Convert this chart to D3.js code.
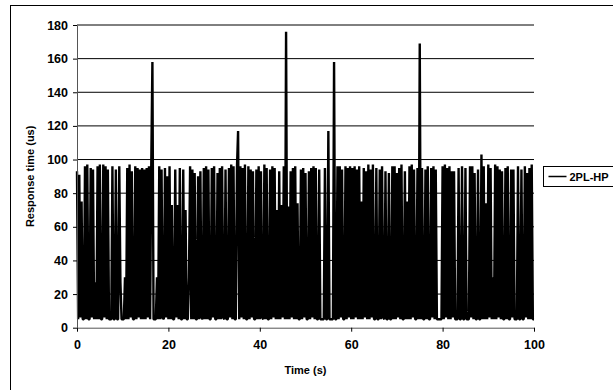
<!DOCTYPE html>
<html>
<head>
<meta charset="utf-8">
<script src="https://cdn.jsdelivr.net/npm/d3@7"></script>
<style>
  body { margin: 0; background: #fff; }
  svg { display: block; }
</style>
</head>
<body>
<div id="chart"></div>
<script>
// Response time samples (us), one every 0.25 s from 0 to 100 s
const SAMPLE_STEP = 0.25;
const responseTimes = [
  93, 5, 91, 6, 75, 5, 5, 96, 5, 97, 5, 5, 95, 6, 94, 5, 27, 5, 96, 5,
  97, 5, 5, 97, 6, 96, 5, 94, 5, 5, 5, 96, 5, 5, 94, 5, 5, 96, 27, 5,
  5, 5, 30, 5, 95, 5, 97, 6, 93, 5, 5, 96, 5, 95, 6, 94, 5, 95, 5, 94,
  5, 95, 6, 96, 5, 97, 158, 5, 5, 5, 30, 5, 96, 5, 94, 6, 5, 95, 6, 90,
  5, 96, 5, 73, 5, 5, 94, 6, 73, 5, 95, 5, 5, 94, 5, 70, 5, 5, 30, 96,
  5, 94, 5, 92, 5, 5, 90, 5, 93, 6, 5, 95, 5, 96, 5, 94, 5, 5, 95, 6,
  96, 5, 5, 92, 5, 95, 5, 96, 6, 5, 94, 5, 5, 95, 6, 97, 5, 96, 5, 5,
  95, 117, 5, 96, 6, 95, 5, 97, 5, 5, 96, 5, 94, 6, 93, 5, 5, 94, 5, 96,
  5, 93, 6, 5, 97, 5, 95, 5, 5, 94, 5, 96, 6, 95, 5, 70, 5, 93, 5, 73,
  6, 96, 5, 176, 5, 72, 5, 93, 6, 95, 5, 96, 5, 74, 5, 5, 94, 5, 95, 6,
  92, 5, 5, 93, 5, 95, 6, 96, 5, 95, 5, 5, 94, 5, 5, 5, 5, 95, 5, 5,
  117, 5, 5, 5, 5, 158, 5, 5, 96, 5, 96, 6, 94, 5, 5, 96, 5, 95, 6, 96,
  5, 95, 5, 96, 6, 94, 5, 96, 5, 75, 5, 95, 6, 93, 5, 97, 5, 94, 6, 97,
  5, 5, 95, 5, 5, 94, 5, 96, 6, 5, 93, 5, 5, 92, 5, 5, 96, 5, 96, 5,
  92, 6, 95, 5, 97, 5, 5, 93, 5, 75, 5, 96, 5, 97, 6, 94, 5, 5, 95, 5,
  169, 5, 95, 5, 5, 94, 5, 96, 5, 5, 95, 6, 96, 5, 94, 5, 5, 5, 5, 5,
  96, 5, 97, 6, 95, 5, 96, 5, 93, 6, 93, 5, 5, 5, 95, 5, 5, 96, 5, 5,
  95, 5, 5, 5, 96, 6, 96, 5, 92, 5, 5, 94, 5, 5, 103, 5, 96, 5, 74, 5,
  97, 6, 95, 5, 30, 5, 97, 5, 96, 6, 94, 5, 93, 5, 5, 95, 5, 96, 5, 5,
  94, 6, 94, 5, 5, 5, 96, 5, 5, 94, 5, 5, 96, 6, 92, 5, 95, 5, 97, 5,
  5
];
const xTicks = [0, 20, 40, 60, 80, 100];
const yTicks = [0, 20, 40, 60, 80, 100, 120, 140, 160, 180];
const seriesName = '2PL-HP';

const W = 613, H = 390;
const plot = { left: 77, right: 534, top: 25, bottom: 327.7 };
const FONT = 'Liberation Sans, Arial, sans-serif';

const svg = d3.select('#chart').append('svg')
  .attr('width', W)
  .attr('height', H);

// chart area border (runs off the right and bottom edges)
svg.append('rect')
  .attr('x', 10.5).attr('y', 5.5)
  .attr('width', 640).attr('height', 400)
  .attr('fill', '#fff')
  .attr('stroke', '#000')
  .attr('stroke-width', 1);

const x = d3.scaleLinear().domain([0, 100]).range([plot.left, plot.right]);
const y = d3.scaleLinear().domain([0, 180]).range([plot.bottom, plot.top]);

// gridlines
svg.append('g')
  .selectAll('line')
  .data(yTicks.filter(t => t > 0))
  .enter()
  .append('line')
    .attr('x1', plot.left).attr('x2', plot.right)
    .attr('y1', d => y(d)).attr('y2', d => y(d))
    .attr('stroke', '#000')
    .attr('stroke-width', 1);

// data line
const line = d3.line()
  .x((d, i) => x(i * SAMPLE_STEP))
  .y(d => y(d));

svg.append('path')
  .datum(responseTimes)
  .attr('d', line)
  .attr('fill', 'none')
  .attr('stroke', '#000')
  .attr('stroke-width', 2.4)
  .attr('stroke-linejoin', 'bevel');

// axes
const xAxis = svg.append('g')
  .attr('transform', `translate(0,${plot.bottom})`)
  .call(d3.axisBottom(x).tickValues(xTicks).tickSize(4).tickSizeOuter(0));

const yAxis = svg.append('g')
  .attr('transform', `translate(${plot.left},0)`)
  .call(d3.axisLeft(y).tickValues(yTicks).tickSize(4).tickSizeOuter(0));

[xAxis, yAxis].forEach(a => {
  a.select('.domain').attr('stroke', '#555');
  a.selectAll('.tick line').attr('stroke', '#000');
  a.selectAll('.tick text')
    .attr('font-family', FONT)
    .attr('font-size', '12.5px')
    .attr('font-weight', 'bold')
    .attr('fill', '#000');
});
xAxis.selectAll('.tick text').attr('dy', '1.05em').attr('y', 8);
yAxis.selectAll('.tick text').attr('x', -9);

// axis titles
svg.append('text')
  .attr('x', (plot.left + plot.right) / 2)
  .attr('y', 374)
  .attr('text-anchor', 'middle')
  .attr('font-family', FONT)
  .attr('font-size', '11px')
  .attr('font-weight', 'bold')
  .attr('fill', '#000')
  .text('Time (s)');

svg.append('text')
  .attr('transform', `translate(34,${(plot.top + plot.bottom) / 2}) rotate(-90)`)
  .attr('text-anchor', 'middle')
  .attr('font-family', FONT)
  .attr('font-size', '11px')
  .attr('font-weight', 'bold')
  .attr('fill', '#000')
  .text('Response time (us)');

// legend
const legend = svg.append('g').attr('transform', 'translate(543.5,166.5)');
legend.append('rect')
  .attr('width', 100).attr('height', 20)
  .attr('fill', '#fff')
  .attr('stroke', '#000');
legend.append('line')
  .attr('x1', 5).attr('x2', 23)
  .attr('y1', 10).attr('y2', 10)
  .attr('stroke', '#000')
  .attr('stroke-width', 1.5);
legend.append('text')
  .attr('x', 26).attr('y', 10)
  .attr('dominant-baseline', 'central')
  .attr('font-family', FONT)
  .attr('font-size', '11px')
  .attr('font-weight', 'bold')
  .attr('fill', '#000')
  .text(seriesName);
</script>
</body>
</html>
